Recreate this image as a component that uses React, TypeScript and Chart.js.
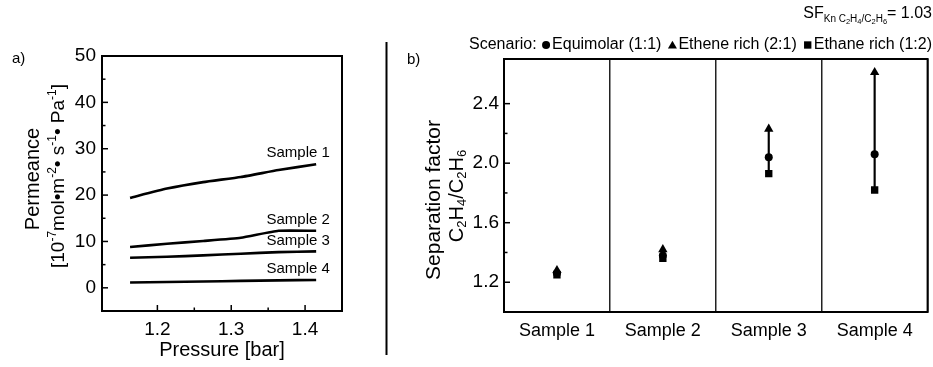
import React, { useEffect, useRef } from 'react';
import { Chart, registerables } from 'chart.js';

Chart.register(...registerables);

const FONT = '"Liberation Sans", Arial, Helvetica, sans-serif';

// ---------- Panel a) data ----------
const pressure = [1.163, 1.213, 1.262, 1.313, 1.364, 1.415];
const sample1 = [19.4, 21.4, 22.8, 23.9, 25.4, 26.65];
const sample2 = [8.8, 9.5, 10.1, 10.8, 12.3, 12.3];
const sample3 = [6.5, 6.7, 7.0, 7.35, 7.7, 7.85];
const sample4 = [1.15, 1.25, 1.35, 1.5, 1.6, 1.7];
const seriesNames = ['Sample 1', 'Sample 2', 'Sample 3', 'Sample 4'];

// ---------- Panel b) data ----------
const categories = ['Sample 1', 'Sample 2', 'Sample 3', 'Sample 4'];
const equimolar = [1.26, 1.38, 2.04, 2.06];
const etheneRich = [1.28, 1.42, 2.23, 2.61];
const ethaneRich = [1.25, 1.36, 1.93, 1.82];
const scenarioNames = ['Equimolar (1:1)', 'Ethene rich (2:1)', 'Ethane rich (1:2)'];

type Seg = { t: string; s: number; dy?: number };

function drawSegs(
  ctx: CanvasRenderingContext2D,
  segs: Seg[],
  x: number,
  y: number,
  align: 'left' | 'center' | 'right'
) {
  const ws = segs.map((g) => {
    ctx.font = `${g.s}px ${FONT}`;
    return ctx.measureText(g.t).width;
  });
  const total = ws.reduce((a, b) => a + b, 0);
  let cx = align === 'left' ? x : align === 'center' ? x - total / 2 : x - total;
  ctx.textAlign = 'left';
  segs.forEach((g, i) => {
    ctx.font = `${g.s}px ${FONT}`;
    ctx.fillText(g.t, cx, y + (g.dy || 0));
    cx += ws[i];
  });
  return total;
}

function isMult(v: number, step: number) {
  const r = v / step;
  return Math.abs(r - Math.round(r)) < 1e-6;
}

function drawMarker(ctx: CanvasRenderingContext2D, shape: string, x: number, y: number, r: number) {
  ctx.beginPath();
  if (shape === 'circle') {
    ctx.arc(x, y, r, 0, Math.PI * 2);
  } else if (shape === 'triangle') {
    ctx.moveTo(x, y - r);
    ctx.lineTo(x + r * 0.866, y + r * 0.5);
    ctx.lineTo(x - r * 0.866, y + r * 0.5);
    ctx.closePath();
  } else {
    const h = r * Math.SQRT1_2;
    ctx.rect(x - h, y - h, 2 * h, 2 * h);
  }
  ctx.fill();
}

const leftDecor = {
  id: 'leftDecor',
  afterDraw(chart: any) {
    const { ctx, chartArea: a } = chart;
    const xs = chart.scales.x;
    const ys = chart.scales.y;
    ctx.save();
    ctx.strokeStyle = '#000';
    ctx.fillStyle = '#000';
    // frame
    ctx.lineWidth = 2;
    ctx.strokeRect(a.left, a.top, a.right - a.left, a.bottom - a.top);
    // inward ticks
    ctx.lineWidth = 1.5;
    ys.ticks.forEach((t: any) => {
      const v = t.value;
      const p = ys.getPixelForValue(v);
      if (p < a.top + 2 || p > a.bottom - 2) return;
      let len = 0;
      if (isMult(v, 10)) len = 6;
      else if (isMult(v, 5)) len = 3.5;
      if (!len) return;
      ctx.beginPath();
      ctx.moveTo(a.left, p);
      ctx.lineTo(a.left + len, p);
      ctx.stroke();
    });
    xs.ticks.forEach((t: any) => {
      const v = t.value;
      const p = xs.getPixelForValue(v);
      if (p < a.left + 2 || p > a.right - 2) return;
      let len = 0;
      if (isMult(v, 0.1)) len = 6;
      else if (isMult(v, 0.05)) len = 3.5;
      if (!len) return;
      ctx.beginPath();
      ctx.moveTo(p, a.bottom);
      ctx.lineTo(p, a.bottom - len);
      ctx.stroke();
    });
    // series labels near line ends
    ctx.textBaseline = 'middle';
    chart.data.datasets.forEach((ds: any, i: number) => {
      const meta = chart.getDatasetMeta(i);
      const last = meta.data[meta.data.length - 1];
      drawSegs(ctx, [{ t: ds.label, s: 15 }], last.x - 18, last.y - 11, 'center');
    });
    // x title
    ctx.textBaseline = 'alphabetic';
    drawSegs(ctx, [{ t: 'Pressure [bar]', s: 20 }], (a.left + a.right) / 2, 356, 'center');
    // y title (rotated)
    ctx.textBaseline = 'middle';
    ctx.save();
    ctx.translate(33, 179);
    ctx.rotate(-Math.PI / 2);
    drawSegs(ctx, [{ t: 'Permeance', s: 20 }], 0, 0, 'center');
    ctx.restore();
    ctx.save();
    ctx.translate(59, 176);
    ctx.rotate(-Math.PI / 2);
    drawSegs(
      ctx,
      [
        { t: '[10', s: 19 },
        { t: '-7', s: 12, dy: -6 },
        { t: 'mol•m', s: 19 },
        { t: '-2', s: 12, dy: -6 },
        { t: '• s', s: 19 },
        { t: '-1', s: 12, dy: -6 },
        { t: '• Pa', s: 19 },
        { t: '-1', s: 12, dy: -6 },
        { t: ']', s: 19 },
      ],
      0,
      0,
      'center'
    );
    ctx.restore();
    // panel letter
    ctx.textBaseline = 'alphabetic';
    drawSegs(ctx, [{ t: 'a)', s: 15 }], 12, 63, 'left');
    // divider
    ctx.lineWidth = 2;
    ctx.beginPath();
    ctx.moveTo(386.5, 42);
    ctx.lineTo(386.5, 355);
    ctx.stroke();
    ctx.restore();
  },
};

const rightDecor = {
  id: 'rightDecor',
  afterDraw(chart: any) {
    const { ctx, chartArea: a } = chart;
    const ys = chart.scales.y;
    ctx.save();
    ctx.strokeStyle = '#000';
    ctx.fillStyle = '#000';
    ctx.lineWidth = 2;
    ctx.strokeRect(a.left, a.top, a.right - a.left, a.bottom - a.top);
    ctx.lineWidth = 1.5;
    ys.ticks.forEach((t: any) => {
      const v = t.value;
      const p = ys.getPixelForValue(v);
      if (p < a.top + 2 || p > a.bottom - 2) return;
      let len = 0;
      if (isMult(v, 0.4)) len = 6;
      else if (isMult(v, 0.2)) len = 3.5;
      if (!len) return;
      ctx.beginPath();
      ctx.moveTo(a.left, p);
      ctx.lineTo(a.left + len, p);
      ctx.stroke();
    });
    // y title
    ctx.textBaseline = 'middle';
    ctx.save();
    ctx.translate(44, 200);
    ctx.rotate(-Math.PI / 2);
    drawSegs(ctx, [{ t: 'Separation factor', s: 21 }], 0, 0, 'center');
    ctx.restore();
    ctx.save();
    ctx.translate(67, 196);
    ctx.rotate(-Math.PI / 2);
    drawSegs(
      ctx,
      [
        { t: 'C', s: 20 },
        { t: '2', s: 13, dy: 5 },
        { t: 'H', s: 20 },
        { t: '4', s: 13, dy: 5 },
        { t: '/C', s: 20 },
        { t: '2', s: 13, dy: 5 },
        { t: 'H', s: 20 },
        { t: '6', s: 13, dy: 5 },
      ],
      0,
      0,
      'center'
    );
    ctx.restore();
    // panel letter
    ctx.textBaseline = 'alphabetic';
    drawSegs(ctx, [{ t: 'b)', s: 15 }], 17, 64, 'left');
    // SF annotation
    drawSegs(
      ctx,
      [
        { t: 'SF', s: 16 },
        { t: 'Kn C', s: 10, dy: 4 },
        { t: '2', s: 7.5, dy: 6 },
        { t: 'H', s: 10, dy: 4 },
        { t: '4', s: 7.5, dy: 6 },
        { t: '/C', s: 10, dy: 4 },
        { t: '2', s: 7.5, dy: 6 },
        { t: 'H', s: 10, dy: 4 },
        { t: '6', s: 7.5, dy: 6 },
        { t: '= 1.03', s: 16 },
      ],
      542,
      18,
      'right'
    );
    // legend
    const fs = 16;
    const shapes = ['circle', 'triangle', 'rect'];
    const radii = [4, 5.2, 5.2];
    ctx.font = `${fs}px ${FONT}`;
    const lead = 'Scenario: ';
    const leadW = ctx.measureText(lead).width;
    const mW = 10;
    const gap = 6;
    const tw = scenarioNames.map((n) => ctx.measureText(n).width);
    const total = leadW + tw.reduce((s, w) => s + w + mW + 1, 0) + gap * (scenarioNames.length - 1);
    let lx = 542 - total;
    const ly = 45;
    ctx.textBaseline = 'middle';
    ctx.textAlign = 'left';
    ctx.fillText(lead, lx, ly);
    lx += leadW;
    scenarioNames.forEach((n, i) => {
      drawMarker(ctx, shapes[i], lx + mW / 2, ly + (shapes[i] === 'triangle' ? 1 : 0), radii[i]);
      lx += mW + 1;
      ctx.font = `${fs}px ${FONT}`;
      ctx.fillText(n, lx, ly);
      lx += tw[i] + gap;
    });
    ctx.restore();
  },
};

export default function App() {
  const leftRef = useRef<HTMLCanvasElement>(null);
  const rightRef = useRef<HTMLCanvasElement>(null);

  useEffect(() => {
    const seriesList = [sample1, sample2, sample3, sample4];
    const left = new Chart(leftRef.current as HTMLCanvasElement, {
      type: 'line',
      data: {
        datasets: seriesList.map((arr, i) => ({
          label: seriesNames[i],
          data: pressure.map((p, j) => ({ x: p, y: arr[j] })),
          borderColor: '#000',
          backgroundColor: '#000',
          borderWidth: 2.6,
          pointRadius: 0,
          tension: 0.15,
          fill: false,
        })),
      },
      options: {
        animation: false,
        responsive: true,
        maintainAspectRatio: false,
        layout: { padding: { top: 56, right: 46, left: 0, bottom: 0 } },
        plugins: { legend: { display: false }, tooltip: { enabled: false } },
        scales: {
          x: {
            type: 'linear',
            min: 1.125,
            max: 1.45,
            afterFit: (s: any) => {
              s.height = 56;
            },
            grid: { display: false, drawTicks: false },
            border: { display: false },
            ticks: {
              stepSize: 0.05,
              autoSkip: false,
              maxRotation: 0,
              padding: 7,
              color: '#000',
              font: { family: FONT, size: 19 },
              callback: (v: any) => (isMult(Number(v), 0.1) ? Number(v).toFixed(1) : ''),
            },
          },
          y: {
            type: 'linear',
            min: -5,
            max: 50,
            afterFit: (s: any) => {
              s.width = 102;
            },
            grid: { display: false, drawTicks: false },
            border: { display: false },
            ticks: {
              stepSize: 5,
              autoSkip: false,
              padding: 6,
              color: '#000',
              font: { family: FONT, size: 19 },
              callback: (v: any) => (Number(v) >= 0 && isMult(Number(v), 10) ? String(Math.round(Number(v))) : ''),
            },
          },
        },
      } as any,
      plugins: [leftDecor],
    });

    const right = new Chart(rightRef.current as HTMLCanvasElement, {
      type: 'bar',
      data: {
        labels: categories,
        datasets: [
          {
            type: 'bar',
            label: 'range',
            data: categories.map((_, i) => [
              Math.min(equimolar[i], etheneRich[i], ethaneRich[i]),
              Math.max(equimolar[i], etheneRich[i], ethaneRich[i]),
            ]),
            backgroundColor: '#000',
            barThickness: 1.5,
            order: 5,
          } as any,
          {
            type: 'line',
            label: scenarioNames[0],
            data: equimolar,
            showLine: false,
            pointStyle: 'circle',
            pointRadius: 4,
            pointBackgroundColor: '#000',
            pointBorderColor: '#000',
            pointBorderWidth: 0,
            order: 1,
          },
          {
            type: 'line',
            label: scenarioNames[1],
            data: etheneRich,
            showLine: false,
            pointStyle: 'triangle',
            pointRadius: 5.4,
            pointBackgroundColor: '#000',
            pointBorderColor: '#000',
            pointBorderWidth: 0,
            order: 1,
          },
          {
            type: 'line',
            label: scenarioNames[2],
            data: ethaneRich,
            showLine: false,
            pointStyle: 'rect',
            pointRadius: 5.2,
            pointBackgroundColor: '#000',
            pointBorderColor: '#000',
            pointBorderWidth: 0,
            order: 1,
          },
        ],
      },
      options: {
        animation: false,
        responsive: true,
        maintainAspectRatio: false,
        layout: { padding: { top: 59, right: 1, left: 0, bottom: 0 } },
        plugins: { legend: { display: false }, tooltip: { enabled: false } },
        scales: {
          x: {
            type: 'category',
            offset: true,
            afterFit: (s: any) => {
              s.height = 55;
            },
            grid: { offset: true, drawTicks: false, color: '#222', lineWidth: 1.5 },
            border: { display: false },
            ticks: {
              autoSkip: false,
              maxRotation: 0,
              padding: 8,
              color: '#000',
              font: { family: FONT, size: 18 },
            },
          },
          y: {
            type: 'linear',
            min: 1.0,
            max: 2.7,
            afterFit: (s: any) => {
              s.width = 114;
            },
            grid: { display: false, drawTicks: false },
            border: { display: false },
            ticks: {
              stepSize: 0.2,
              autoSkip: false,
              padding: 5,
              color: '#000',
              font: { family: FONT, size: 19 },
              callback: (v: any) => {
                const n = Math.round(Number(v) * 10);
                return n % 4 === 0 && n >= 12 && isMult(Number(v), 0.2) ? (n / 10).toFixed(1) : '';
              },
            },
          },
        },
      } as any,
      plugins: [rightDecor],
    });

    return () => {
      left.destroy();
      right.destroy();
    };
  }, []);

  return (
    <div style={{ position: 'absolute', left: 0, top: 0, width: 933, height: 367, background: '#fff' }}>
      <div style={{ position: 'absolute', left: 0, top: 0, width: 388, height: 367 }}>
        <canvas ref={leftRef} />
      </div>
      <div style={{ position: 'absolute', left: 390, top: 0, width: 543, height: 367 }}>
        <canvas ref={rightRef} />
      </div>
    </div>
  );
}
